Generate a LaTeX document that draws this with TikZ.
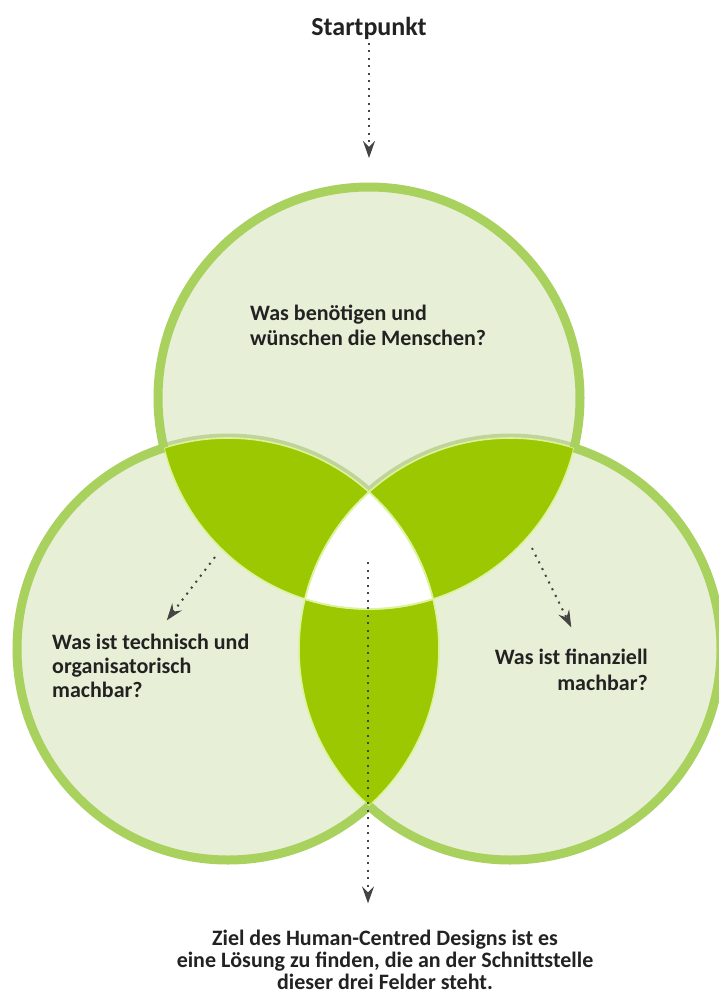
\documentclass[tikz,border=0pt]{standalone}
\usepackage{fontspec}
\setmainfont{Carlito}
\usetikzlibrary{positioning,arrows.meta}
\definecolor{venfill}{HTML}{E7F0D6}
\definecolor{venring}{HTML}{A9D15E}
\definecolor{venband}{HTML}{C0D49A}
\definecolor{venlens}{HTML}{9BC800}
\definecolor{venedge}{HTML}{DCF39A}
\definecolor{ink}{HTML}{222222}
\definecolor{dotgray}{HTML}{444444}
\newcommand{\vr}{211pt}

\begin{document}
\begin{tikzpicture}[x=1pt,y=-1pt,>={Stealth[length=17pt,width=12pt,inset=6pt]},
  arr/.style={->,dotgray,line width=2pt,dash pattern=on 2pt off 5.5pt},
  ask/.style={font=\fontsize{22}{25}\selectfont\bfseries,text=ink,inner sep=0pt}]
\useasboundingbox[fill=white] (0,0) rectangle (718,999);
\coordinate (ct) at (369,398);
\coordinate (cl) at (228,649);
\coordinate (cr) at (510,649);

% light discs
\foreach \c in {ct,cl,cr}
  \fill[venfill] (\c) circle[radius=\vr];
\begin{scope}
  \clip (ct) circle[radius=\vr];
  \draw[venband,line width=9pt] (cl) circle[radius=\vr] (cr) circle[radius=\vr];
\end{scope}

% overlaps
\begin{scope}
  \clip (ct) circle[radius=\vr];
  \fill[venlens] (cl) circle[radius=\vr];
  \fill[venlens] (cr) circle[radius=\vr];
\end{scope}
\begin{scope}
  \clip (cl) circle[radius=\vr];
  \fill[venlens] (cr) circle[radius=\vr];
\end{scope}
\begin{scope}
  \clip (ct) circle[radius=\vr];
  \clip (cl) circle[radius=\vr];
  \fill[white] (cr) circle[radius=\vr];
\end{scope}

% thin edges inside
\foreach \a/\b/\c in {ct/cl/cr,cl/ct/cr,cr/ct/cl}{
  \begin{scope}
    \clip (\b) circle[radius=\vr];
    \draw[venedge,line width=1.6pt] (\a) circle[radius=\vr];
  \end{scope}
  \begin{scope}
    \clip (\c) circle[radius=\vr];
    \draw[venedge,line width=1.6pt] (\a) circle[radius=\vr];
  \end{scope}
}

% outer rings
\foreach \a/\b/\c in {ct/cl/cr,cl/ct/cr,cr/ct/cl}{
  \begin{scope}[even odd rule]
    \clip (-20,-20) rectangle (740,1020) (\b) circle[radius=\vr];
    \clip (-20,-20) rectangle (740,1020) (\c) circle[radius=\vr];
    \draw[venring,line width=9pt] (\a) circle[radius=\vr];
  \end{scope}
}

\node[font=\fontsize{26}{30}\selectfont\bfseries,text=ink] (start) at (369,28) {Startpunkt};
\coordinate (topin) at (369,158);
\draw[arr] (start) -- (topin);

% base anchor sits on the last line
\node[ask,align=left,anchor=base west] (needq) at (250,345)
  {Was benötigen und\\wünschen die Menschen?};
\node[ask,align=left,anchor=base west,font=\fontsize{22}{24}\selectfont\bfseries] (techq) at (52,697)
  {Was ist technisch und\\organisatorisch\\machbar?};
\node[ask,align=right,anchor=base east,font=\fontsize{22}{26}\selectfont\bfseries] (moneyq) at (648,690)
  {Was ist finanziell\\machbar?};
\node[ask,align=center,anchor=base,font=\fontsize{22}{22}\selectfont\bfseries] (goal) at (385,989)
  {Ziel des Human-Centred Designs ist es\\eine Lösung zu finden, die an der Schnittstelle\\dieser drei Felder steht.};

\coordinate (ltail) at (215,557);
\coordinate (rtail) at (532,548);
\coordinate (ctail) at (368,562);
\draw[arr] (ltail) -- ([xshift=16pt,yshift=13pt]techq.north);
\draw[arr] (rtail) -- ([yshift=21pt]moneyq.north);
\draw[arr,shorten >=26pt] (ctail) -- (ctail |- goal.north);
\end{tikzpicture}
\end{document}
